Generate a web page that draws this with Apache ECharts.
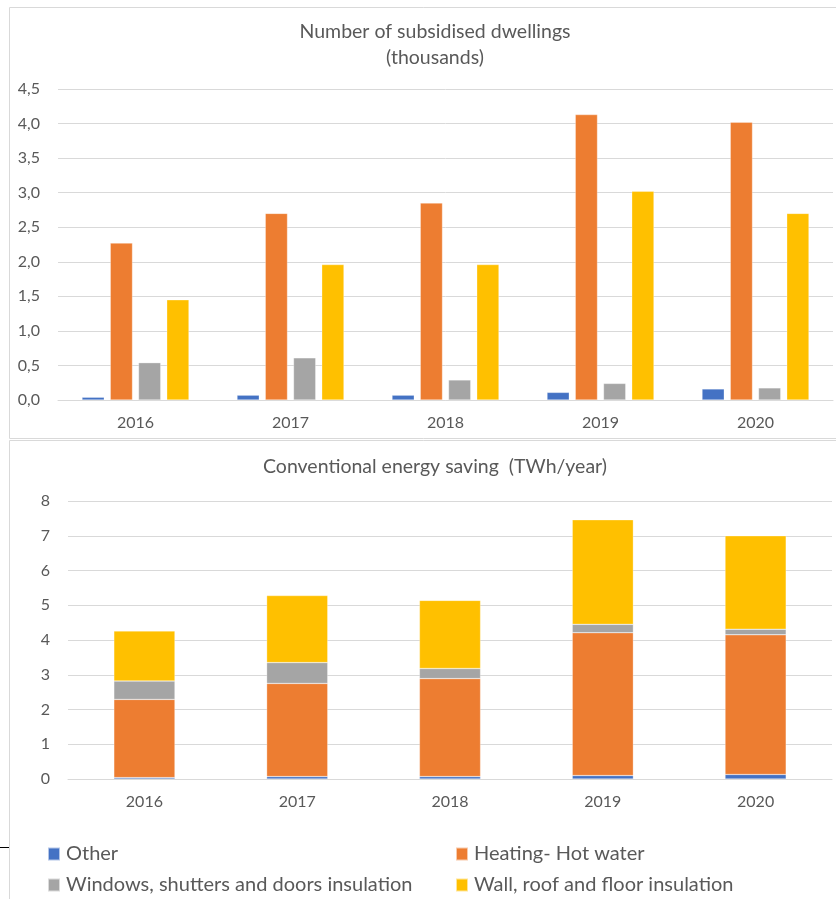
<!DOCTYPE html>
<html>
<head>
<meta charset="utf-8">
<script src="https://cdn.jsdelivr.net/npm/echarts@6/dist/echarts.min.js"></script>
<style>
  html, body { margin: 0; padding: 0; background: #fff; }
  #chart { width: 836px; height: 899px; }
</style>
</head>
<body>
<div id="chart"></div>
<script>
// categories
const years = ['2016', '2017', '2018', '2019', '2020']
// number of subsidised dwellings (thousands)
const dwOther = [0.04, 0.07, 0.07, 0.11, 0.16]
const dwHeating = [2.27, 2.70, 2.85, 4.13, 4.02]
const dwWindows = [0.54, 0.61, 0.29, 0.24, 0.175]
const dwWall = [1.45, 1.96, 1.96, 3.02, 2.70]
// conventional energy saving (TWh/year)
const enOther = [0.04, 0.07, 0.07, 0.10, 0.13]
const enHeating = [2.25, 2.68, 2.82, 4.11, 4.02]
const enWindows = [0.53, 0.60, 0.29, 0.24, 0.16]
const enWall = [1.44, 1.93, 1.96, 3.01, 2.69]

const names = ['Other', 'Heating- Hot water', 'Windows, shutters and doors insulation', 'Wall, roof and floor insulation']
const colors = ['#4472C4', '#ED7D31', '#A5A5A5', '#FFC000']

const font = 'Lato, "Liberation Sans", sans-serif'
const txt = '#595959'

let mychart = echarts.init(document.getElementById('chart'))

// 柱子的公共样式
function bar(i, data, axis, stack) {
  return {
    name: names[i],
    type: 'bar',
    xAxisIndex: axis,
    yAxisIndex: axis,
    stack: stack,
    data: data,
    barGap: '27%',
    barCategoryGap: axis === 0 ? '31%' : '60%',
    itemStyle: { color: colors[i], borderColor: 'rgba(255,255,255,0.6)', borderWidth: 0.5 },
    emphasis: { disabled: true },
  }
}

// 图例：每项单独放，排成两列
const legendPos = [[47, 844], [455, 844], [47, 875], [455, 875]]
const legends = names.map((n, j) => ({
  left: legendPos[j][0],
  top: legendPos[j][1],
  data: [n],
  icon: 'rect',
  itemWidth: 12,
  itemHeight: 13,
  itemGap: 6,
  padding: 0,
  textStyle: { color: txt, fontSize: 20, fontFamily: font, padding: [0, 0, 0, 1] },
}))

mychart.setOption({
  animation: false,
  textStyle: { fontFamily: font },
  title: [
    {
      text: 'Number of subsidised dwellings\n(thousands)',
      left: 430, top: 14, textAlign: 'center',
      textStyle: { color: txt, fontSize: 19.5, fontWeight: 'normal', fontFamily: font, lineHeight: 26 },
    },
    {
      text: 'Conventional energy saving  (TWh/year)',
      left: 430, top: 452, textAlign: 'center',
      textStyle: { color: txt, fontSize: 19.5, fontWeight: 'normal', fontFamily: font },
    },
  ],
  legend: legends,
  grid: [
    { left: 58, right: 3, top: 89, bottom: 499 },
    { left: 68, right: 4, top: 501, bottom: 120 },
  ],
  xAxis: [0, 1].map(i => ({
    type: 'category',
    gridIndex: i,
    data: years,
    axisLine: { lineStyle: { color: '#D9D9D9' } },
    axisTick: { show: false },
    axisLabel: { color: txt, fontSize: 16, margin: 15, fontFamily: font },
  })),
  yAxis: [
    {
      type: 'value', gridIndex: 0, min: 0, max: 4.5, interval: 0.5,
      splitLine: { lineStyle: { color: '#D9D9D9' } },
      axisLabel: { color: txt, fontSize: 16, margin: 18, fontFamily: font, formatter: v => v.toFixed(1).replace('.', ',') },
    },
    {
      type: 'value', gridIndex: 1, min: 0, max: 8, interval: 1,
      splitLine: { lineStyle: { color: '#D9D9D9' } },
      axisLabel: { color: txt, fontSize: 16, margin: 18, fontFamily: font },
    },
  ],
  //外框
  graphic: [
    { type: 'rect', shape: { x: 9.5, y: 7.5, width: 840, height: 431 }, style: { fill: 'none', stroke: '#D9D9D9', lineWidth: 1 }, silent: true },
    { type: 'rect', shape: { x: 9.5, y: 440.5, width: 840, height: 480 }, style: { fill: 'none', stroke: '#D9D9D9', lineWidth: 1 }, silent: true },
    { type: 'line', shape: { x1: 0, y1: 847.5, x2: 9, y2: 847.5 }, style: { stroke: '#000', lineWidth: 1 }, silent: true },
  ],
  series: [
    bar(0, dwOther, 0), bar(1, dwHeating, 0), bar(2, dwWindows, 0), bar(3, dwWall, 0),
    bar(0, enOther, 1, 'e'), bar(1, enHeating, 1, 'e'), bar(2, enWindows, 1, 'e'), bar(3, enWall, 1, 'e'),
  ],
})
</script>
</body>
</html>
